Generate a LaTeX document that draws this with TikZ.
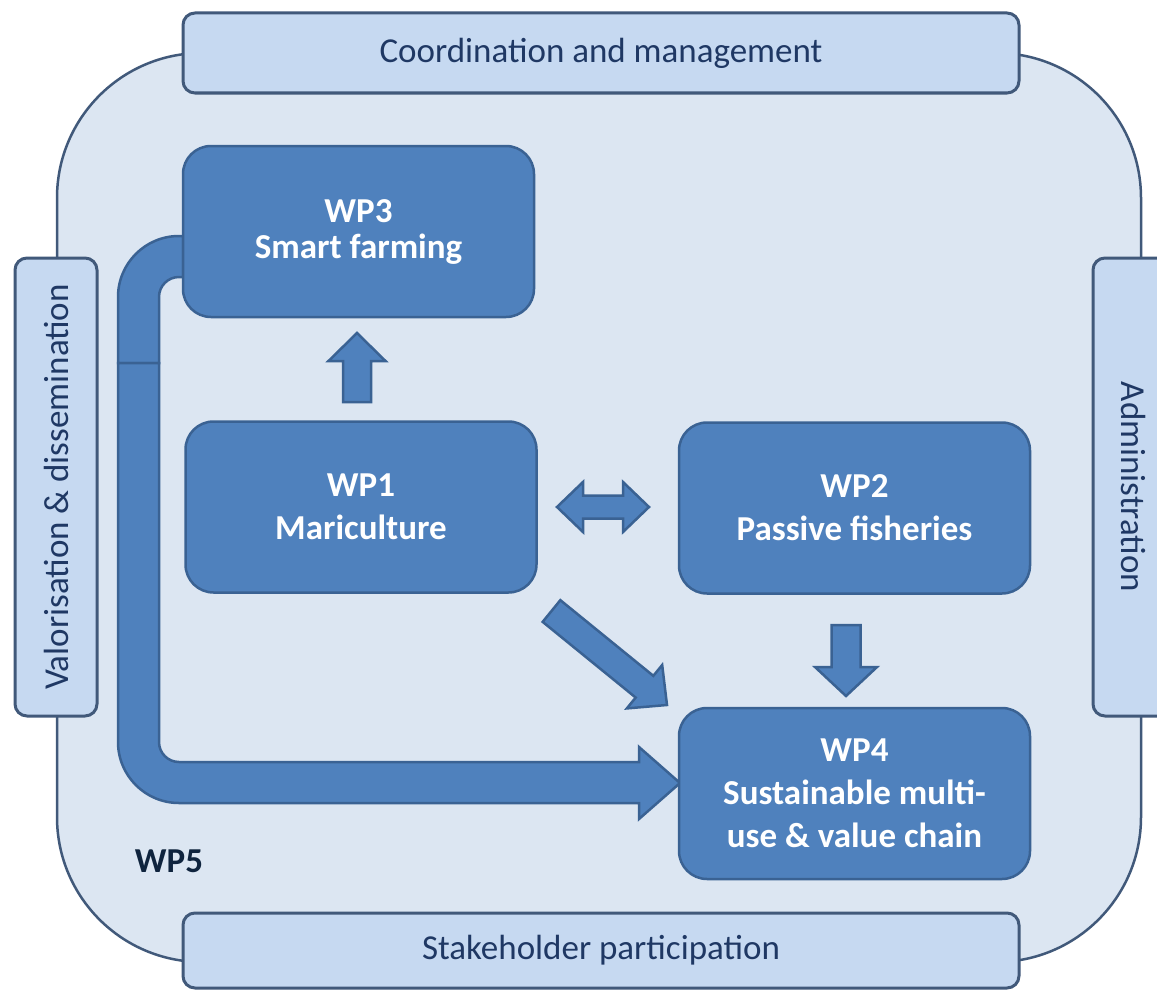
\documentclass[tikz,border=0pt]{standalone}
\usepackage{fontspec}
\setmainfont{Carlito}
\usetikzlibrary{calc}

\definecolor{panel}{HTML}{DCE6F2}
\definecolor{panelline}{HTML}{41597A}
\definecolor{wpfill}{HTML}{4F81BD}
\definecolor{wpline}{HTML}{3A6293}
\definecolor{bandfill}{HTML}{C6D9F1}
\definecolor{navy}{HTML}{1F3864}
\definecolor{deepnavy}{HTML}{0F243E}

\tikzset{
  wpbox/.style={draw=wpline, fill=wpfill, line width=2.5pt, rounded corners=28pt,
    minimum width=351pt, minimum height=171pt, inner sep=0pt, text=white,
    align=center, font=\fontsize{35}{43}\selectfont\bfseries},
  band/.style={draw=panelline, fill=bandfill, line width=3pt, rounded corners=12pt,
    inner sep=0pt, text=navy, font=\fontsize{35}{42}\selectfont},
  blockarrow/.style={draw=wpline, fill=wpfill, line width=2.5pt, line join=miter},
}

% straight block arrow: start, end, shaft half width, head half width, head length
\newcommand\blockarr[5]{%
  \coordinate (ba-base) at ($(#2)!#5!(#1)$);
  \draw[blockarrow] ($(#1)!#3!90:(#2)$) -- ($(ba-base)!#3!90:(#2)$)
    -- ($(ba-base)!#4!90:(#2)$) -- (#2) -- ($(ba-base)!#4!-90:(#2)$)
    -- ($(ba-base)!#3!-90:(#2)$) -- ($(#1)!#3!-90:(#2)$) -- cycle;}

% block arrow with a head at both ends
\newcommand\twowayarr[5]{%
  \coordinate (da-a) at ($(#1)!#5!(#2)$);
  \coordinate (da-b) at ($(#2)!#5!(#1)$);
  \draw[blockarrow] (#1) -- ($(da-a)!#4!90:(#2)$) -- ($(da-a)!#3!90:(#2)$)
    -- ($(da-b)!#3!90:(#2)$) -- ($(da-b)!#4!90:(#2)$) -- (#2)
    -- ($(da-b)!#4!-90:(#2)$) -- ($(da-b)!#3!-90:(#2)$)
    -- ($(da-a)!#3!-90:(#2)$) -- ($(da-a)!#4!-90:(#2)$) -- cycle;}

\begin{document}
\begin{tikzpicture}[x=1pt, y=-1pt]
\useasboundingbox (0,0) rectangle (1157,990);
\fill[white] (0,0) rectangle (1157,990);
\clip (0,0) rectangle (1157,990);

% WP5 area
\node[draw=panelline, fill=panel, line width=2.5pt, rounded corners=145pt,
  minimum width=1084pt, minimum height=909pt, inner sep=0pt] (area) at (599,507.5) {};
\node[font=\fontsize{35}{42}\selectfont\bfseries, text=deepnavy] (wp5) at (169,861) {WP5};

% surrounding bands
\node[band, minimum width=836pt, minimum height=80pt] (coord) at (601,53) {Coordination and management};
\node[band, minimum width=836pt, minimum height=75pt] (stake) at (601,950.5) {Stakeholder participation};
\node[band, minimum width=458pt, minimum height=82pt, rotate=90] (valor) at (56,487) {Valorisation \& dissemination};
\node[band, minimum width=458pt, minimum height=82pt, rotate=-90] (admin) at (1134,487) {Administration};

% elbow leaving WP3
\draw[blockarrow] (183,236) -- (179,236) arc[start angle=90, end angle=180, radius=61pt]
  -- (118,363) -- (159,363) -- (159,297) arc[start angle=180, end angle=90, radius=20pt]
  -- (183,277) -- cycle;
% long arrow down the left side into WP4
\draw[blockarrow] (118,363) -- (118,742) arc[start angle=180, end angle=270, radius=61pt]
  -- (639,803) -- (639,819) -- (680,783) -- (639,747) -- (639,762) -- (179,762)
  arc[start angle=270, end angle=180, radius=20pt] -- (159,363) -- cycle;

% work packages
\node[wpbox, font=\fontsize{35}{36}\selectfont\bfseries] (wp3) at (358.5,231.5) {WP3\\Smart farming};
\node[wpbox] (wp1) at (361,507) {WP1\\Mariculture};
\node[wpbox] (wp2) at (854.5,508) {WP2\\Passive fisheries};
\node[wpbox] (wp4) at (854.5,793.5) {WP4\\Sustainable multi-\\use \& value chain};

% arrows between work packages
\coordinate (up-s) at (357,402);   \coordinate (up-e) at (357,333);
\coordinate (dn-s) at (846,625);   \coordinate (dn-e) at (846,696);
\coordinate (dg-s) at (551.5,611); \coordinate (dg-e) at (667,705);
\coordinate (tw-a) at (557,507);   \coordinate (tw-b) at (649,507);
\blockarr{up-s}{up-e}{14pt}{28.5pt}{28pt}
\blockarr{dn-s}{dn-e}{14.5pt}{31pt}{29pt}
\blockarr{dg-s}{dg-e}{14pt}{28pt}{29pt}
\twowayarr{tw-a}{tw-b}{11.5pt}{25pt}{26pt}
\end{tikzpicture}
\end{document}
